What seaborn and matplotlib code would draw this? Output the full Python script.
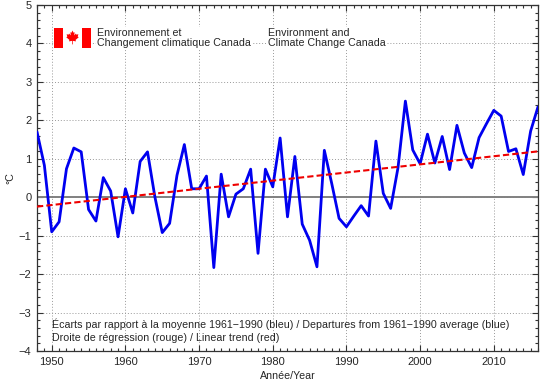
import numpy as np
import pandas as pd
import matplotlib
matplotlib.use('Agg')
import matplotlib.pyplot as plt
from matplotlib.patches import Rectangle, Polygon
from matplotlib.ticker import MultipleLocator
import seaborn as sns

# ==============================================================================
# DATA
# ==============================================================================
YEARS = list(range(1948, 2017))
ANOMALIES = [
    1.70, 0.83, -0.90, -0.64, 0.74, 1.28, 1.18, -0.32, -0.62, 0.51,   # 1948-1957
    0.16, -1.03, 0.22, -0.41, 0.93, 1.18, 0.01, -0.92, -0.68, 0.57,   # 1958-1967
    1.37, 0.22, 0.22, 0.55, -1.83, 0.60, -0.51, 0.08, 0.22, 0.73,     # 1968-1977
    -1.46, 0.73, 0.27, 1.54, -0.51, 1.06, -0.70, -1.12, -1.81, 1.22,  # 1978-1987
    0.36, -0.55, -0.77, -0.49, -0.22, -0.49, 1.46, 0.10, -0.29, 0.77, # 1988-1997
    2.50, 1.23, 0.87, 1.64, 0.89, 1.58, 0.72, 1.87, 1.15, 0.77,       # 1998-2007
    1.55, 1.91, 2.26, 2.11, 1.19, 1.26, 0.59, 1.72, 2.35,             # 2008-2016
]
X_TICKS = [1950, 1960, 1970, 1980, 1990, 2000, 2010]
Y_TICKS = [-4, -3, -2, -1, 0, 1, 2, 3, 4, 5]

LABEL_FR = "Environnement et\nChangement climatique Canada"
LABEL_EN = "Environment and\nClimate Change Canada"
NOTE_1 = "Écarts par rapport à la moyenne 1961\u22121990 (bleu) / Departures from 1961\u22121990 average (blue)"
NOTE_2 = "Droite de régression (rouge) / Linear trend (red)"

FS = 7.7

# ==============================================================================
# PLOT
# ==============================================================================
sns.set_style("ticks")
plt.rcParams['font.family'] = ['Liberation Sans', 'DejaVu Sans']

df = pd.DataFrame({'year': YEARS, 'anomaly': ANOMALIES})
slope, intercept = np.polyfit(df['year'], df['anomaly'], 1)
df['trend'] = slope * df['year'] + intercept

W, H = 544, 383
fig = plt.figure(figsize=(W / 100, H / 100), dpi=100)
ax = fig.add_axes([37 / W, 1 - 351 / H, (538 - 37) / W, (351 - 5) / H])

ax.axhline(0, color='#808080', lw=1.4, zorder=1)
sns.lineplot(data=df, x='year', y='anomaly', ax=ax, color='#0000f0', lw=2.0, zorder=3)
sns.lineplot(data=df, x='year', y='trend', ax=ax, color='#ee0000', lw=1.5,
             linestyle=(0, (3, 1.5)), zorder=4)

ax.set_xlim(1948, 2016)
ax.set_ylim(-4, 5)
ax.set_xticks(X_TICKS)
ax.set_yticks(Y_TICKS)
ax.set_yticklabels([str(v).replace('-', '\u2212') for v in Y_TICKS])
ax.xaxis.set_minor_locator(MultipleLocator(1))
ax.yaxis.set_minor_locator(MultipleLocator(0.2))
ax.tick_params(which='both', direction='in', top=True, right=True, labelsize=FS + 0.3,
               color='#333333', width=0.8)
ax.tick_params(which='major', length=4, pad=4)
ax.tick_params(which='minor', length=2)
ax.grid(True, which='major', ls=(0, (1, 2)), color='#999999', lw=0.7)
for s in ax.spines.values():
    s.set_color('#333333')
    s.set_linewidth(0.9)

ax.set_xlabel("Année/Year", fontsize=FS, labelpad=3)
ax.set_ylabel("°C", fontsize=FS)
ax.yaxis.set_label_coords(-22 / 501, 0.5)

# bilingual header
for x0, label in [(97, LABEL_FR), (268, LABEL_EN)]:
    ax.text(x0 / W, 1 - 38 / H, label, transform=fig.transFigure, fontsize=FS,
            va='center', ha='left', linespacing=1.05,
            bbox=dict(facecolor='white', edgecolor='none', pad=0.5))

# notes at the bottom
ax.text(52 / W, 1 - 324 / H, NOTE_1, transform=fig.transFigure, fontsize=FS,
        va='center', ha='left')
ax.text(52 / W, 1 - 338 / H, NOTE_2, transform=fig.transFigure, fontsize=FS,
        va='center', ha='left')

# Canadian flag
fax = fig.add_axes([54 / W, 1 - 48 / H, 37 / W, 20 / H])
fax.set_xlim(0, 4)
fax.set_ylim(0, 2)
fax.axis('off')
fax.add_patch(Rectangle((0, 0), 4, 2, color='white', lw=0))
fax.add_patch(Rectangle((0, 0), 1, 2, color='#ff0000', lw=0))
fax.add_patch(Rectangle((3, 0), 1, 2, color='#ff0000', lw=0))
leaf = np.array([
    (0, 1.0), (0.15, 0.7), (0.3, 0.78), (0.25, 0.35), (0.5, 0.6), (0.55, 0.45),
    (0.85, 0.5), (0.75, 0.2), (0.9, 0.1), (0.45, -0.25), (0.5, -0.45), (0.05, -0.38),
    (0.05, -0.85), (-0.05, -0.85), (-0.05, -0.38), (-0.5, -0.45), (-0.45, -0.25),
    (-0.9, 0.1), (-0.75, 0.2), (-0.85, 0.5), (-0.55, 0.45), (-0.5, 0.6),
    (-0.25, 0.35), (-0.3, 0.78), (-0.15, 0.7),
])
fax.add_patch(Polygon(leaf * 0.75 + np.array([2, 1]), closed=True, color='#ff0000', lw=0))

fig.savefig('out.png', dpi=100)
